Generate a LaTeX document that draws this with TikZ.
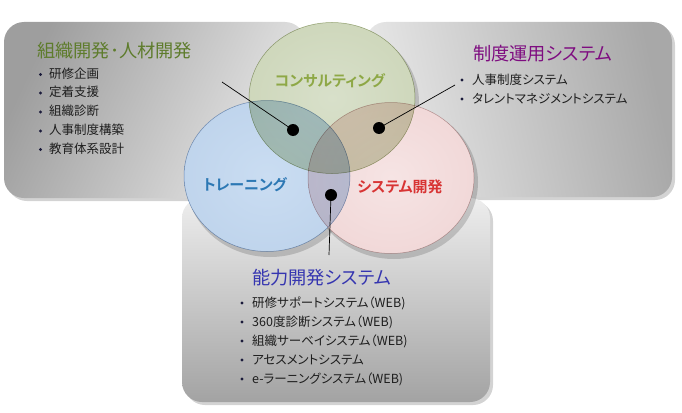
\documentclass[tikz,border=0pt]{standalone}
\usepackage{fontspec}
\setmainfont{Noto Sans CJK JP}
\newfontfamily\jp[RawFeature=+palt]{Noto Sans CJK JP}
\newfontfamily\jpb[RawFeature=+palt]{Noto Sans CJK JP Bold}
\usetikzlibrary{shapes.geometric,shadows}
\definecolor{boxdark}{HTML}{9E9E9E}
\definecolor{boxlight}{HTML}{E6E6E6}
\definecolor{gA}{HTML}{D8E0CA}
\definecolor{gB}{HTML}{CED7BB}
\definecolor{gC}{HTML}{C6D0B0}
\definecolor{gD}{HTML}{AFBC95}
\definecolor{bA}{HTML}{CADDF2}
\definecolor{bB}{HTML}{BFD4EC}
\definecolor{bC}{HTML}{B6CCE7}
\definecolor{bD}{HTML}{98B1D2}
\definecolor{pA}{HTML}{F6E4E4}
\definecolor{pB}{HTML}{F1D8D8}
\definecolor{pC}{HTML}{EBD1D1}
\definecolor{pD}{HTML}{D5B5B5}
\definecolor{greenedge}{HTML}{A6B286}
\definecolor{blueedge}{HTML}{8CA6C6}
\definecolor{pinkedge}{HTML}{C9AAAA}
\definecolor{titleL}{HTML}{5E7C2C}
\definecolor{titleR}{HTML}{7E0C80}
\definecolor{titleB}{HTML}{3535B0}
\definecolor{itemc}{HTML}{1E1E1E}
\definecolor{bulc}{HTML}{1A1A3A}
\definecolor{lblG}{HTML}{8EA846}
\definecolor{lblB}{HTML}{2C78B4}
\definecolor{lblP}{HTML}{D83434}
\pgfdeclareradialshading{greenglass}{\pgfpoint{0bp}{0bp}}{color(0bp)=(gA); color(26bp)=(gB); color(44bp)=(gC); color(50bp)=(gD)}
\pgfdeclareradialshading{blueglass}{\pgfpoint{0bp}{0bp}}{color(0bp)=(bA); color(26bp)=(bB); color(44bp)=(bC); color(50bp)=(bD)}
\pgfdeclareradialshading{pinkglass}{\pgfpoint{0bp}{0bp}}{color(0bp)=(pA); color(26bp)=(pB); color(44bp)=(pC); color(50bp)=(pD)}
\tikzset{
  panel/.style={rectangle, rounded corners=20pt, inner sep=0, draw=none,
    drop shadow={opacity=0.35, shadow xshift=3pt, shadow yshift=-3pt}},
  venn/.style={ellipse, inner sep=0, minimum width=166pt, minimum height=151pt},
  ttl/.style={anchor=base west, inner sep=0, font=\jp\fontsize{18.2}{20}\selectfont},
  item/.style={anchor=base west, inner sep=0, text=itemc, font=\jp\fontsize{12.5}{14}\selectfont},
  bul/.style={circle, fill=bulc, inner sep=0, minimum size=3.4pt},
  dot/.style={circle, fill=black, inner sep=0, minimum size=12pt},
  lbl/.style={inner sep=0, font=\jpb\fontsize{15}{17}\selectfont},
  conn/.style={draw=black, line width=0.7pt}
}
\begin{document}
\begin{tikzpicture}[x=1pt,y=-1pt]
\useasboundingbox (0,0) rectangle (682,412);
% panels
\node[panel, minimum width=301pt, minimum height=176pt, top color=boxdark, bottom color=boxlight!95!white, shading angle=65] (pL) at (154.5,110) {};
\node[panel, minimum width=306pt, minimum height=175pt, top color=boxdark!90!white, bottom color=boxlight!92!white, shading angle=-78] (pR) at (519,109.5) {};
\node[panel, minimum width=308pt, minimum height=204pt, top color=boxlight!70!white, bottom color=boxdark!95] (pB) at (336,300) {};
% circle shadows
\fill[black, opacity=0.16] (335,102) ellipse (84 and 76);
\fill[black, opacity=0.16] (270,180) ellipse (84 and 77);
\fill[black, opacity=0.16] (394,182) ellipse (84 and 77);
% white bases
\node[venn, fill=white] (wG) at (332,98) {};
\node[venn, fill=white] (wB) at (267,176) {};
\node[venn, fill=white] (wP) at (391,178) {};
% colored circles
\begin{scope}[blend mode=multiply]
\node[venn, shading=blueglass, draw=blueedge, line width=0.5pt] (cB) at (267,176) {};
\node[venn, shading=pinkglass, draw=pinkedge, line width=0.5pt] (cP) at (391,178) {};
\node[venn, shading=greenglass, draw=greenedge, line width=0.5pt] (cG) at (332,98) {};
\end{scope}
% circle labels
\node[lbl, text=lblG] (lG) at (330,81) {コンサルティング};
\node[lbl, text=lblB] (lB) at (245,185) {トレーニング};
\node[lbl, text=lblP] (lP) at (400,187) {システム開発};
% dots and connectors
\node[dot] (d1) at (293,130) {};
\node[dot] (d2) at (379,128) {};
\node[dot] (d3) at (331,195) {};
\coordinate (e1) at (222,82);
\coordinate (e2) at (455,85);
\coordinate (e3) at (329,255);
\draw[conn] (d1.center) -- (e1);
\draw[conn] (d2.center) -- (e2);
\draw[conn] (d3.center) -- (e3);
% left panel text
\node[ttl, text=titleL] (tL) at (37,58) {組織開発･人材開発};
\node[bul] (bL1) at (40.5,74.5) {};
\node[item] (iL1) at (49,78) {研修企画};
\node[bul] (bL2) at (40.5,93) {};
\node[item] (iL2) at (49,96.5) {定着支援};
\node[bul] (bL3) at (40.5,112) {};
\node[item] (iL3) at (49,115.5) {組織診断};
\node[bul] (bL4) at (40.5,131) {};
\node[item] (iL4) at (49,134.5) {人事制度構築};
\node[bul] (bL5) at (40.5,149.5) {};
\node[item] (iL5) at (49,153) {教育体系設計};
% right panel text
\node[ttl, text=titleR] (tR) at (473,60) {制度運用システム};
\node[bul] (bR1) at (462,80) {};
\node[item] (iR1) at (472,84) {人事制度システム};
\node[bul] (bR2) at (462,99) {};
\node[item] (iR2) at (472,103) {タレントマネジメントシステム};
% bottom panel text
\node[ttl, text=titleB] (tB) at (252,284) {能力開発システム};
\node[bul] (bB1) at (242,303) {};
\node[item] (iB1) at (252,307) {研修サポートシステム（WEB)};
\node[bul] (bB2) at (242,322) {};
\node[item] (iB2) at (252,326) {360度診断システム（WEB)};
\node[bul] (bB3) at (242,341) {};
\node[item] (iB3) at (252,345) {組織サーベイシステム（WEB)};
\node[bul] (bB4) at (242,360) {};
\node[item] (iB4) at (252,364) {アセスメントシステム};
\node[bul] (bB5) at (242,379) {};
\node[item] (iB5) at (252,383) {e-ラーニングシステム（WEB)};
\end{tikzpicture}
\end{document}
